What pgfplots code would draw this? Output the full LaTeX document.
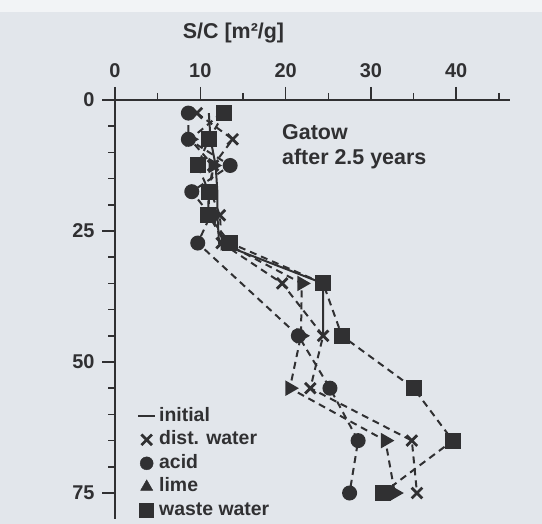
\documentclass[border=0pt]{standalone}
\usepackage{pgfplots}
\pgfplotsset{compat=1.18}
\usepackage{fontspec}
\setmainfont{Liberation Sans}
\definecolor{bg}{RGB}{226,230,235}
\definecolor{ink}{RGB}{48,48,50}
\begin{document}
\begin{tikzpicture}[x=1bp,y=1bp]
\useasboundingbox (0,0) rectangle (542,524);
\fill[bg] (0,0) rectangle (542,524);
\fill[white!55!bg] (0,512) rectangle (542,524);
\begin{axis}[
  at={(115bp,424bp)}, anchor=north west,
  x=8.53bp, y=5.24bp, y dir=reverse,
  xmin=0, xmax=46.3, ymin=0, ymax=80,
  axis x line*=top, axis y line*=left,
  axis line style={ink, line width=1.8bp},
  clip=false,
  xtick={0,10,20,30,40}, minor xtick={5,15,25,35,45},
  ytick={0,25,50,75}, minor ytick={5,10,15,20,30,35,40,45,55,60,65,70},
  tick align=outside,
  major tick length=13bp, minor tick length=7bp,
  every tick/.style={ink, line width=1.5bp},
  /pgf/number format/assume math mode=true,
  tick label style={font=\fontsize{20}{22}\selectfont\bfseries, text=ink},
  xticklabel style={yshift=6bp},
  yticklabel style={xshift=-4bp},
  legend style={draw=none, fill=none, inner sep=0pt, outer sep=0pt,
    at={(axis cs:2.6,58.6)}, anchor=north west, row sep=5bp,
    font=\fontsize{19.5}{22}\selectfont\bfseries, text=ink,
    nodes={inner xsep=3bp, inner ysep=0pt, text height=14bp, text depth=4.5bp}},
  legend cell align=left,
]
% initial
\addplot[ink, line width=2bp, forget plot] coordinates {
(11,2.5)(11.2,7.5)(11.8,12.5)(12,17.5)(12,22)(12.2,27.3)(24.4,35)(24.4,45)};
% dist. water
\addplot[ink, line width=2bp, dash pattern=on 7bp off 5bp, mark=x, mark size=7.5bp,
  mark options={solid, line width=2.8bp}, forget plot] coordinates {
(9.6,2.5)(13.8,7.5)(11.5,12.5)(11.2,17.5)(12.3,22)(12.5,27.3)(19.6,35)(24.4,45)(22.9,55)(34.8,65)(35.4,75)};
% acid
\addplot[ink, line width=2bp, dash pattern=on 7bp off 5bp, mark=*, mark size=6.5bp,
  mark options={solid, fill=ink}, forget plot] coordinates {
(8.6,2.5)(8.6,7.5)(13.5,12.5)(9.0,17.5)(11.2,22)(9.7,27.3)(21.5,45)(25.2,55)(28.5,65)(27.5,75)};
% lime
\addplot[ink, line width=2bp, dash pattern=on 7bp off 5bp, mark=triangle*, mark size=7bp,
  mark options={solid, fill=ink, rotate=-90}, forget plot] coordinates {
(12.5,2.5)(8.8,7.5)(11.5,12.5)(11.0,17.5)(11.0,22)(12.9,27.3)(21.9,35)(21.8,45)(20.5,55)(31.7,65)(32.8,75)};
% waste water
\addplot[ink, line width=2bp, dash pattern=on 7bp off 5bp, mark=square*, mark size=7bp,
  mark options={solid, fill=ink}, forget plot] coordinates {
(12.8,2.5)(11.0,7.5)(9.7,12.5)(11.0,17.5)(10.9,22)(13.5,27.3)(24.4,35)(26.6,45)(35,55)(39.6,65)(31.4,75)};
\addlegendimage{ink, line width=2bp}
\addlegendentry{initial}
\addlegendimage{only marks, mark=x, mark size=7.5bp, mark options={ink, line width=2.8bp}}
\addlegendentry{dist. water}
\addlegendimage{only marks, mark=*, mark size=6.5bp, mark options={ink, fill=ink}}
\addlegendentry{acid}
\addlegendimage{only marks, mark=triangle*, mark size=7bp, mark options={ink, fill=ink}}
\addlegendentry{lime}
\addlegendimage{only marks, mark=square*, mark size=7bp, mark options={ink, fill=ink}}
\addlegendentry{waste water}
\end{axis}
\node[anchor=base, text=ink, font=\fontsize{21.5}{24}\selectfont\bfseries] at (233.5,485) {S/C [m²/g]};
\node[anchor=base west, inner sep=0pt, text=ink, font=\fontsize{21.5}{24}\selectfont\bfseries] at (282,384) {Gatow};
\node[anchor=base west, inner sep=0pt, text=ink, font=\fontsize{21.5}{24}\selectfont\bfseries] at (282,359) {after 2.5 years};
\end{tikzpicture}
\end{document}
